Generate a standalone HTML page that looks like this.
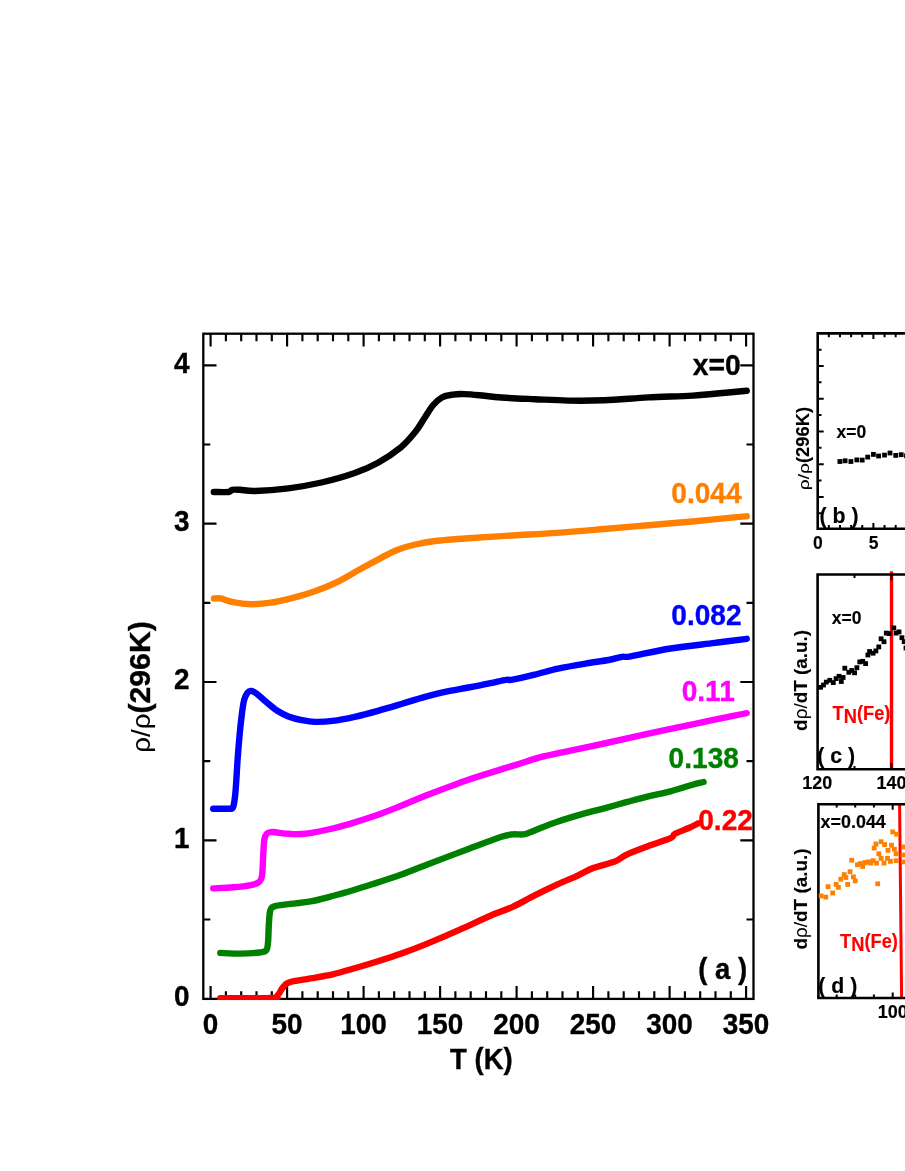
<!DOCTYPE html>
<html><head><meta charset="utf-8"><title>Figure</title>
<style>html,body{margin:0;padding:0;background:#fff}body{width:905px;height:1171px;overflow:hidden;font-family:"Liberation Sans",sans-serif}svg{will-change:transform}</style>
</head><body>
<svg width="905" height="1171" viewBox="0 0 905 1171" style="display:block">
<rect width="905" height="1171" fill="#fff"/>
<path d="M210.60,333.7v12.9M210.60,998.9v-12.9M225.90,333.7v7.6M225.90,998.9v-7.6M241.20,333.7v7.6M241.20,998.9v-7.6M256.50,333.7v7.6M256.50,998.9v-7.6M271.80,333.7v7.6M271.80,998.9v-7.6M287.10,333.7v12.9M287.10,998.9v-12.9M302.40,333.7v7.6M302.40,998.9v-7.6M317.70,333.7v7.6M317.70,998.9v-7.6M333.00,333.7v7.6M333.00,998.9v-7.6M348.30,333.7v7.6M348.30,998.9v-7.6M363.60,333.7v12.9M363.60,998.9v-12.9M378.90,333.7v7.6M378.90,998.9v-7.6M394.20,333.7v7.6M394.20,998.9v-7.6M409.50,333.7v7.6M409.50,998.9v-7.6M424.80,333.7v7.6M424.80,998.9v-7.6M440.10,333.7v12.9M440.10,998.9v-12.9M455.40,333.7v7.6M455.40,998.9v-7.6M470.70,333.7v7.6M470.70,998.9v-7.6M486.00,333.7v7.6M486.00,998.9v-7.6M501.30,333.7v7.6M501.30,998.9v-7.6M516.60,333.7v12.9M516.60,998.9v-12.9M531.90,333.7v7.6M531.90,998.9v-7.6M547.20,333.7v7.6M547.20,998.9v-7.6M562.50,333.7v7.6M562.50,998.9v-7.6M577.80,333.7v7.6M577.80,998.9v-7.6M593.10,333.7v12.9M593.10,998.9v-12.9M608.40,333.7v7.6M608.40,998.9v-7.6M623.70,333.7v7.6M623.70,998.9v-7.6M639.00,333.7v7.6M639.00,998.9v-7.6M654.30,333.7v7.6M654.30,998.9v-7.6M669.60,333.7v12.9M669.60,998.9v-12.9M684.90,333.7v7.6M684.90,998.9v-7.6M700.20,333.7v7.6M700.20,998.9v-7.6M715.50,333.7v7.6M715.50,998.9v-7.6M730.80,333.7v7.6M730.80,998.9v-7.6M746.10,333.7v12.9M746.10,998.9v-12.9M203.3,919.53h7.0M753.5,919.53h-7.0M203.3,840.35h13.2M753.5,840.35h-13.2M203.3,761.18h7.0M753.5,761.18h-7.0M203.3,682.00h13.2M753.5,682.00h-13.2M203.3,602.83h7.0M753.5,602.83h-7.0M203.3,523.65h13.2M753.5,523.65h-13.2M203.3,444.48h7.0M753.5,444.48h-7.0M203.3,365.30h13.2M753.5,365.30h-13.2" stroke="#000" stroke-width="2.15" fill="none"/>
<rect x="203.3" y="333.7" width="550.2" height="665.2" fill="none" stroke="#000" stroke-width="2.3"/>
<clipPath id="ca"><rect x="202.15" y="332.55" width="552.5" height="667.5"/></clipPath>
<g clip-path="url(#ca)">
<path d="M213.8,492.0C216.3,492.0 225.7,492.4 228.7,492.0C231.7,491.6 230.1,490.2 232.0,489.8C233.9,489.4 236.1,489.6 240.0,489.8C243.9,490.0 247.1,491.2 255.2,491.0C263.3,490.8 277.3,489.8 288.4,488.4C299.4,486.9 310.4,485.0 321.5,482.5C332.6,479.9 345.3,476.3 354.7,473.0C364.1,469.8 370.3,467.1 378.0,462.8C385.7,458.5 394.8,452.4 401.0,447.3C407.2,442.1 411.5,436.6 415.4,431.8C419.3,427.0 421.3,422.9 424.2,418.5C427.1,414.1 430.1,408.7 433.0,405.2C435.9,401.7 438.6,399.3 441.9,397.5C445.2,395.7 449.2,395.2 452.9,394.6C456.6,394.0 459.6,394.0 464.0,394.1C468.4,394.2 473.1,394.6 479.4,395.2C485.6,395.8 492.3,396.8 501.5,397.5C510.7,398.2 523.7,398.7 534.7,399.2C545.8,399.7 556.2,400.4 567.8,400.6C579.4,400.8 590.8,400.8 604.2,400.3C617.6,399.8 633.7,398.2 648.4,397.4C663.1,396.6 679.7,396.4 692.6,395.6C705.5,394.8 716.7,393.5 725.7,392.7C734.7,391.9 743.2,391.0 746.7,390.7" fill="none" stroke="#000000" stroke-width="6.4" stroke-linecap="round" stroke-linejoin="round"/>
<path d="M214.0,598.5C215.1,598.5 217.3,597.8 220.5,598.4C223.7,599.0 228.0,601.2 233.1,602.2C238.2,603.2 244.5,604.1 250.8,604.2C257.1,604.3 263.7,603.8 270.7,602.7C277.7,601.6 285.4,599.7 292.8,597.8C300.2,595.9 307.5,593.9 314.9,591.2C322.3,588.6 329.6,585.7 337.0,582.1C344.4,578.6 351.7,573.8 359.1,569.8C366.5,565.7 374.8,561.2 381.2,557.8C387.6,554.5 392.0,552.0 397.7,549.8C403.4,547.6 409.1,545.9 415.4,544.5C421.6,543.0 426.4,542.0 435.2,541.0C444.0,539.9 455.5,539.1 468.4,538.2C481.3,537.3 497.9,536.4 512.6,535.5C527.3,534.6 541.5,534.0 556.8,532.9C572.1,531.8 588.9,530.3 604.2,529.0C619.5,527.7 633.7,526.5 648.4,525.2C663.1,524.0 677.9,522.8 692.6,521.5C707.3,520.1 727.8,518.0 736.8,517.1C745.8,516.3 745.1,516.4 746.7,516.3" fill="none" stroke="#ff8000" stroke-width="6.4" stroke-linecap="round" stroke-linejoin="round"/>
<path d="M213.2,808.7C215.8,808.7 225.4,809.0 228.7,808.7C232.0,808.4 232.0,809.7 233.1,807.0C234.2,804.3 234.7,800.5 235.4,792.6C236.2,784.7 236.9,769.4 237.6,759.4C238.3,749.4 239.1,740.6 239.8,732.9C240.5,725.2 241.3,718.5 242.0,713.0C242.7,707.5 243.3,703.2 244.2,699.8C245.1,696.4 246.3,694.2 247.5,692.7C248.7,691.2 249.6,690.6 251.3,690.9C253.0,691.2 255.0,692.4 257.5,694.3C260.0,696.1 263.0,699.2 266.3,702.0C269.6,704.8 273.6,708.4 277.3,710.8C281.0,713.2 284.3,714.8 288.4,716.4C292.5,718.0 297.3,719.2 301.7,720.1C306.1,721.0 309.8,721.8 314.9,721.9C320.0,722.0 326.0,721.8 332.6,720.9C339.2,720.1 347.1,718.5 354.7,716.8C362.3,715.1 370.1,713.0 378.0,710.8C385.9,708.7 394.4,706.1 402.1,703.8C409.8,701.5 416.8,699.1 424.2,697.1C431.6,695.1 438.9,693.2 446.3,691.6C453.7,690.0 461.0,689.0 468.4,687.5C475.8,686.1 484.2,684.4 490.5,683.1C496.8,681.8 502.3,680.3 506.0,679.8C509.7,679.2 507.8,680.6 512.6,679.7C517.4,678.9 527.1,676.6 534.7,674.7C542.3,672.9 549.4,670.5 558.0,668.6C566.6,666.7 578.1,664.8 586.5,663.4C594.9,661.9 602.7,661.1 608.6,660.0C614.5,658.9 618.2,657.4 621.9,656.8C625.6,656.2 622.6,657.7 630.7,656.3C638.8,654.9 656.5,650.7 670.5,648.5C684.5,646.3 702.0,644.5 714.7,642.9C727.4,641.3 741.4,639.5 746.7,638.8" fill="none" stroke="#0000ff" stroke-width="6.4" stroke-linecap="round" stroke-linejoin="round"/>
<path d="M213.2,888.4C216.5,888.2 226.8,887.8 233.1,887.3C239.4,886.8 246.5,886.0 250.8,885.1C255.2,884.2 257.3,883.5 259.2,881.8C261.1,880.1 261.4,879.5 262.1,875.1C262.8,870.7 262.8,861.1 263.2,855.2C263.6,849.3 263.7,843.4 264.3,839.8C264.9,836.2 265.7,834.9 267.0,833.6C268.3,832.3 268.6,832.0 272.2,832.0C275.8,832.0 282.8,833.5 288.4,833.8C294.0,834.1 298.7,834.5 306.1,833.6C313.5,832.7 324.5,830.4 332.6,828.5C340.7,826.6 347.1,824.7 354.7,822.4C362.3,820.1 370.4,817.4 378.0,814.8C385.6,812.1 392.3,809.3 400.0,806.2C407.7,803.1 412.8,800.6 424.2,796.2C435.6,791.8 453.7,784.7 468.4,779.7C483.1,774.7 500.1,769.8 512.6,765.9C525.1,762.1 532.3,759.3 543.5,756.4C554.7,753.6 569.9,750.9 580.0,748.7C590.1,746.5 592.8,746.0 604.2,743.5C615.6,741.0 633.7,736.8 648.4,733.6C663.1,730.4 677.9,727.4 692.6,724.3C707.3,721.2 727.8,717.0 736.8,715.1C745.8,713.3 745.1,713.5 746.7,713.2" fill="none" stroke="#ff00ff" stroke-width="6.4" stroke-linecap="round" stroke-linejoin="round"/>
<path d="M220.3,952.9C223.6,953.0 233.2,953.7 239.8,953.6C246.4,953.5 255.3,953.0 259.7,952.5C264.1,952.0 264.9,952.1 266.3,950.3C267.7,948.4 267.7,945.8 268.1,941.4C268.5,937.0 268.5,928.9 268.9,923.8C269.3,918.6 269.3,913.5 270.3,910.5C271.3,907.5 272.1,907.1 275.1,906.1C278.1,905.1 282.5,905.0 288.4,904.2C294.3,903.5 303.1,902.8 310.5,901.4C317.9,900.1 325.2,898.0 332.6,896.0C340.0,894.1 347.1,892.0 354.7,889.7C362.3,887.5 370.4,884.8 378.0,882.4C385.6,879.9 392.3,877.8 400.0,875.0C407.7,872.2 412.8,870.0 424.2,865.7C435.6,861.4 455.5,853.7 468.4,848.9C481.3,844.1 494.1,839.2 501.5,836.8C508.9,834.4 508.7,834.8 512.6,834.4C516.5,834.0 521.1,834.9 524.8,834.2C528.5,833.5 529.2,832.5 534.7,830.4C540.2,828.3 550.1,824.2 558.0,821.5C565.9,818.8 574.4,816.3 582.1,814.1C589.8,811.9 596.8,810.3 604.2,808.3C611.6,806.3 618.9,804.2 626.3,802.2C633.7,800.2 641.0,798.1 648.4,796.3C655.8,794.5 663.1,793.2 670.5,791.3C677.9,789.4 687.1,786.3 692.6,784.7C698.1,783.2 701.8,782.5 703.6,782.0" fill="none" stroke="#008000" stroke-width="6.4" stroke-linecap="round" stroke-linejoin="round"/>
<path d="M220.3,998.3C228.8,998.2 261.9,998.4 271.5,997.9C281.1,997.4 275.7,997.2 277.6,995.4C279.6,993.6 281.2,989.2 283.2,987.0C285.2,984.8 284.9,983.7 289.5,982.2C294.1,980.8 303.3,979.8 310.5,978.4C317.7,977.1 325.2,976.0 332.6,974.3C340.0,972.6 347.1,970.4 354.7,968.2C362.3,966.1 370.1,963.8 378.0,961.3C385.9,958.8 394.4,956.1 402.1,953.3C409.8,950.6 416.8,947.9 424.2,944.9C431.6,942.0 438.9,938.8 446.3,935.6C453.7,932.4 461.0,929.1 468.4,925.8C475.8,922.5 483.1,918.8 490.5,915.7C497.9,912.5 505.2,910.2 512.6,906.9C520.0,903.5 527.1,899.2 534.7,895.4C542.3,891.6 550.8,887.5 558.0,884.2C565.2,880.9 571.9,878.3 577.7,875.6C583.6,872.9 586.9,870.4 593.1,868.0C599.4,865.7 609.7,863.6 615.2,861.4C620.7,859.2 620.8,857.4 626.3,854.8C631.8,852.2 641.0,848.8 648.4,846.0C655.8,843.2 666.1,840.2 670.5,838.2C674.9,836.2 671.9,835.4 674.9,833.8C677.9,832.1 684.3,830.0 688.2,828.3C692.1,826.6 696.5,824.2 698.1,823.4" fill="none" stroke="#ff0000" stroke-width="6.4" stroke-linecap="round" stroke-linejoin="round"/>
</g>
<text transform="translate(210.6,1033.6) scale(1,1.065)" font-family="Liberation Sans, sans-serif" font-weight="bold" font-size="27.9" text-anchor="middle" fill="#000" stroke="#000" stroke-width="0.35" xml:space="preserve">0</text>
<text transform="translate(287.1,1033.6) scale(1,1.065)" font-family="Liberation Sans, sans-serif" font-weight="bold" font-size="27.9" text-anchor="middle" fill="#000" stroke="#000" stroke-width="0.35" xml:space="preserve">50</text>
<text transform="translate(363.6,1033.6) scale(1,1.065)" font-family="Liberation Sans, sans-serif" font-weight="bold" font-size="27.9" text-anchor="middle" fill="#000" stroke="#000" stroke-width="0.35" xml:space="preserve">100</text>
<text transform="translate(440.1,1033.6) scale(1,1.065)" font-family="Liberation Sans, sans-serif" font-weight="bold" font-size="27.9" text-anchor="middle" fill="#000" stroke="#000" stroke-width="0.35" xml:space="preserve">150</text>
<text transform="translate(516.6,1033.6) scale(1,1.065)" font-family="Liberation Sans, sans-serif" font-weight="bold" font-size="27.9" text-anchor="middle" fill="#000" stroke="#000" stroke-width="0.35" xml:space="preserve">200</text>
<text transform="translate(593.1,1033.6) scale(1,1.065)" font-family="Liberation Sans, sans-serif" font-weight="bold" font-size="27.9" text-anchor="middle" fill="#000" stroke="#000" stroke-width="0.35" xml:space="preserve">250</text>
<text transform="translate(669.6,1033.6) scale(1,1.065)" font-family="Liberation Sans, sans-serif" font-weight="bold" font-size="27.9" text-anchor="middle" fill="#000" stroke="#000" stroke-width="0.35" xml:space="preserve">300</text>
<text transform="translate(746.1,1033.6) scale(1,1.065)" font-family="Liberation Sans, sans-serif" font-weight="bold" font-size="27.9" text-anchor="middle" fill="#000" stroke="#000" stroke-width="0.35" xml:space="preserve">350</text>
<text transform="translate(189.6,1005.9) scale(1,1.065)" font-family="Liberation Sans, sans-serif" font-weight="bold" font-size="27.9" text-anchor="end" fill="#000" stroke="#000" stroke-width="0.35" xml:space="preserve">0</text>
<text transform="translate(189.6,847.55) scale(1,1.065)" font-family="Liberation Sans, sans-serif" font-weight="bold" font-size="27.9" text-anchor="end" fill="#000" stroke="#000" stroke-width="0.35" xml:space="preserve">1</text>
<text transform="translate(189.6,689.2) scale(1,1.065)" font-family="Liberation Sans, sans-serif" font-weight="bold" font-size="27.9" text-anchor="end" fill="#000" stroke="#000" stroke-width="0.35" xml:space="preserve">2</text>
<text transform="translate(189.6,530.85) scale(1,1.065)" font-family="Liberation Sans, sans-serif" font-weight="bold" font-size="27.9" text-anchor="end" fill="#000" stroke="#000" stroke-width="0.35" xml:space="preserve">3</text>
<text transform="translate(189.6,372.5) scale(1,1.065)" font-family="Liberation Sans, sans-serif" font-weight="bold" font-size="27.9" text-anchor="end" fill="#000" stroke="#000" stroke-width="0.35" xml:space="preserve">4</text>
<text transform="translate(481.4,1069.3) scale(1,1.065)" font-family="Liberation Sans, sans-serif" font-weight="bold" font-size="27.5" text-anchor="middle" fill="#000" stroke="#000" stroke-width="0.35" xml:space="preserve">T (K)</text>
<text transform="translate(150.4,752.8) rotate(-90) scale(1.08,1)" font-family="Liberation Sans, sans-serif" font-weight="bold" font-size="25.7" text-anchor="start" fill="#000" stroke="#000" stroke-width="0.35" xml:space="preserve"><tspan font-weight="normal" stroke-width="0.1">ρ/ρ</tspan></text>
<text transform="translate(150.3,713.6) rotate(-90) scale(1.025,1)" font-family="Liberation Sans, sans-serif" font-weight="bold" font-size="29.5" text-anchor="start" fill="#000" stroke="#000" stroke-width="0.35" xml:space="preserve">(296K)</text>
<text transform="translate(740.8,374.5) scale(1,1.065)" font-family="Liberation Sans, sans-serif" font-weight="bold" font-size="28.3" text-anchor="end" fill="#000" stroke="#000" stroke-width="0.35" xml:space="preserve">x=0</text>
<text transform="translate(741.6,503.2) scale(1,1.065)" font-family="Liberation Sans, sans-serif" font-weight="bold" font-size="28.1" text-anchor="end" fill="#ff8000" stroke="#ff8000" stroke-width="0.35" xml:space="preserve">0.044</text>
<text transform="translate(741.6,625.4) scale(1,1.065)" font-family="Liberation Sans, sans-serif" font-weight="bold" font-size="28.1" text-anchor="end" fill="#0000ff" stroke="#0000ff" stroke-width="0.35" xml:space="preserve">0.082</text>
<text transform="translate(734.8,700.7) scale(1,1.065)" font-family="Liberation Sans, sans-serif" font-weight="bold" font-size="28.1" text-anchor="end" fill="#ff00ff" stroke="#ff00ff" stroke-width="0.35" xml:space="preserve">0.11</text>
<text transform="translate(738.9,767.7) scale(1,1.065)" font-family="Liberation Sans, sans-serif" font-weight="bold" font-size="28.1" text-anchor="end" fill="#008000" stroke="#008000" stroke-width="0.35" xml:space="preserve">0.138</text>
<text transform="translate(752.9,829.6) scale(1,1.065)" font-family="Liberation Sans, sans-serif" font-weight="bold" font-size="28.1" text-anchor="end" fill="#ff0000" stroke="#ff0000" stroke-width="0.35" xml:space="preserve">0.22</text>
<text transform="translate(698.3,978.7) scale(1,1.065)" font-family="Liberation Sans, sans-serif" font-weight="bold" font-size="27.5" text-anchor="start" fill="#000" stroke="#000" stroke-width="0.35" xml:space="preserve">( a )</text>
<path d="M906,333.4H817.7V528.8H906" fill="none" stroke="#000" stroke-width="2.6"/>
<path d="M817.7,513.33h3.8M817.7,496.96h6M817.7,480.59h3.8M817.7,464.22h6M817.7,447.85h3.8M817.7,431.48h6M817.7,415.11h3.8M817.7,398.74h6M817.7,382.37h3.8M817.7,366.00h6M817.7,349.63h3.8M828.84,333.4v3.8M828.84,528.8v-3.8M839.98,333.4v3.8M839.98,528.8v-3.8M851.12,333.4v3.8M851.12,528.8v-3.8M862.26,333.4v3.8M862.26,528.8v-3.8M873.40,333.4v5.7M873.40,528.8v-5.7M884.54,333.4v3.8M884.54,528.8v-3.8M895.68,333.4v3.8M895.68,528.8v-3.8M906.82,333.4v3.8M906.82,528.8v-3.8" stroke="#000" stroke-width="2" fill="none"/>
<rect x="837.5" y="459.1" width="4.8" height="4.8" fill="#000"/>
<rect x="842.7" y="458.4" width="4.8" height="4.8" fill="#000"/>
<rect x="848.5" y="459.1" width="4.8" height="4.8" fill="#000"/>
<rect x="854.4" y="457.5" width="4.8" height="4.8" fill="#000"/>
<rect x="859.8" y="457.7" width="4.8" height="4.8" fill="#000"/>
<rect x="865.3" y="454.7" width="4.8" height="4.8" fill="#000"/>
<rect x="871.0" y="452.0" width="4.8" height="4.8" fill="#000"/>
<rect x="876.2" y="453.6" width="4.8" height="4.8" fill="#000"/>
<rect x="882.1" y="452.7" width="4.8" height="4.8" fill="#000"/>
<rect x="887.6" y="450.6" width="4.8" height="4.8" fill="#000"/>
<rect x="893.3" y="453.0" width="4.8" height="4.8" fill="#000"/>
<rect x="898.8" y="452.3" width="4.8" height="4.8" fill="#000"/>
<rect x="904.1" y="453.4" width="4.8" height="4.8" fill="#000"/>
<text transform="translate(836.5,437.6) scale(1,1.065)" font-family="Liberation Sans, sans-serif" font-weight="bold" font-size="17.5" text-anchor="start" fill="#000" stroke="#000" stroke-width="0.15" xml:space="preserve">x=0</text>
<text transform="translate(819.5,523) scale(1,1.065)" font-family="Liberation Sans, sans-serif" font-weight="bold" font-size="21.3" text-anchor="start" fill="#000" stroke="#000" stroke-width="0.15" xml:space="preserve">( b )</text>
<text transform="translate(817.8,549) scale(1,1.065)" font-family="Liberation Sans, sans-serif" font-weight="bold" font-size="17.5" text-anchor="middle" fill="#000" stroke="#000" stroke-width="0.15" xml:space="preserve">0</text>
<text transform="translate(873.5,549) scale(1,1.065)" font-family="Liberation Sans, sans-serif" font-weight="bold" font-size="17.5" text-anchor="middle" fill="#000" stroke="#000" stroke-width="0.15" xml:space="preserve">5</text>
<text transform="translate(808.9,490.3) rotate(-90) scale(1.26,1)" font-family="Liberation Sans, sans-serif" font-weight="bold" font-size="15.3" text-anchor="start" fill="#000" stroke="#000" stroke-width="0.1" xml:space="preserve"><tspan font-weight="normal">ρ/ρ</tspan></text>
<text transform="translate(808.9,463.0) rotate(-90) scale(1.05,1)" font-family="Liberation Sans, sans-serif" font-weight="bold" font-size="17.5" text-anchor="start" fill="#000" stroke="#000" stroke-width="0.1" xml:space="preserve">(296K)</text>
<rect x="889.8" y="571.3" width="3.4" height="197" fill="#ff0000"/>
<path d="M906,574.5H817.6V769.3H906" fill="none" stroke="#000" stroke-width="2.6"/>
<path d="M854.5,574.5v3.4M854.5,769.3v-3.4M891.5,573.5v6.8M891.5,769.3v-6.2" stroke="#000" stroke-width="2" fill="none"/>
<rect x="818.2" y="684.9" width="4.8" height="4.8" fill="#000"/>
<rect x="821.1" y="682.6" width="4.8" height="4.8" fill="#000"/>
<rect x="823.9" y="679.7" width="4.8" height="4.8" fill="#000"/>
<rect x="827.4" y="677.9" width="4.8" height="4.8" fill="#000"/>
<rect x="830.9" y="680.2" width="4.8" height="4.8" fill="#000"/>
<rect x="833.7" y="676.2" width="4.8" height="4.8" fill="#000"/>
<rect x="836.6" y="673.9" width="4.8" height="4.8" fill="#000"/>
<rect x="838.9" y="679.1" width="4.8" height="4.8" fill="#000"/>
<rect x="840.7" y="675.1" width="4.8" height="4.8" fill="#000"/>
<rect x="842.4" y="665.8" width="4.8" height="4.8" fill="#000"/>
<rect x="846.4" y="669.9" width="4.8" height="4.8" fill="#000"/>
<rect x="849.3" y="668.1" width="4.8" height="4.8" fill="#000"/>
<rect x="852.2" y="670.4" width="4.8" height="4.8" fill="#000"/>
<rect x="854.5" y="665.3" width="4.8" height="4.8" fill="#000"/>
<rect x="857.4" y="659.5" width="4.8" height="4.8" fill="#000"/>
<rect x="860.3" y="658.9" width="4.8" height="4.8" fill="#000"/>
<rect x="863.2" y="661.2" width="4.8" height="4.8" fill="#000"/>
<rect x="865.5" y="652.6" width="4.8" height="4.8" fill="#000"/>
<rect x="867.2" y="649.1" width="4.8" height="4.8" fill="#000"/>
<rect x="870.7" y="650.8" width="4.8" height="4.8" fill="#000"/>
<rect x="873.5" y="648.5" width="4.8" height="4.8" fill="#000"/>
<rect x="876.4" y="644.5" width="4.8" height="4.8" fill="#000"/>
<rect x="878.7" y="636.4" width="4.8" height="4.8" fill="#000"/>
<rect x="881.6" y="639.3" width="4.8" height="4.8" fill="#000"/>
<rect x="883.9" y="630.7" width="4.8" height="4.8" fill="#000"/>
<rect x="886.8" y="631.2" width="4.8" height="4.8" fill="#000"/>
<rect x="891.4" y="625.5" width="4.8" height="4.8" fill="#000"/>
<rect x="893.7" y="630.7" width="4.8" height="4.8" fill="#000"/>
<rect x="896.6" y="629.5" width="4.8" height="4.8" fill="#000"/>
<rect x="899.5" y="635.3" width="4.8" height="4.8" fill="#000"/>
<rect x="901.8" y="639.3" width="4.8" height="4.8" fill="#000"/>
<rect x="903.6" y="645.6" width="4.8" height="4.8" fill="#000"/>
<text transform="translate(831.8,624) scale(1,1.065)" font-family="Liberation Sans, sans-serif" font-weight="bold" font-size="17.5" text-anchor="start" fill="#000" stroke="#000" stroke-width="0.15" xml:space="preserve">x=0</text>
<text transform="translate(832.5,719.8) scale(1,1.065)" font-family="Liberation Sans, sans-serif" font-weight="bold" font-size="18.3" text-anchor="start" fill="#ff0000" stroke="#ff0000" stroke-width="0.15" xml:space="preserve">T<tspan dy="3.2">N</tspan><tspan dy="-3.2">(Fe)</tspan></text>
<text transform="translate(817.2,763) scale(1,1.065)" font-family="Liberation Sans, sans-serif" font-weight="bold" font-size="21.3" text-anchor="start" fill="#000" stroke="#000" stroke-width="0.15" xml:space="preserve">( c )</text>
<text transform="translate(817.2,789.2) scale(1,1.065)" font-family="Liberation Sans, sans-serif" font-weight="bold" font-size="18" text-anchor="middle" fill="#000" stroke="#000" stroke-width="0.15" xml:space="preserve">120</text>
<text transform="translate(891.5,789.2) scale(1,1.065)" font-family="Liberation Sans, sans-serif" font-weight="bold" font-size="18" text-anchor="middle" fill="#000" stroke="#000" stroke-width="0.15" xml:space="preserve">140</text>
<text transform="translate(807.2,730.9) rotate(-90) scale(0.995,1)" font-family="Liberation Sans, sans-serif" font-weight="bold" font-size="19" text-anchor="start" fill="#000" stroke="#000" stroke-width="0.1" xml:space="preserve">d<tspan font-weight="normal">ρ/</tspan>dT (a.u.)</text>
<path d="M898.1,804.2L901.1,804.2L903.1,998L900.1,998Z" fill="#ff0000"/>
<path d="M906,804.2H818.4V998H906" fill="none" stroke="#000" stroke-width="2.6"/>
<path d="M836.7,804.2v3.4M836.7,998v-3.4M855.2,804.2v3.4M855.2,998v-3.4M873.9,804.2v3.4M873.9,998v-3.4M892.7,804.2v5.6M892.7,998v-5.6" stroke="#000" stroke-width="2" fill="none"/>
<rect x="818.7" y="893.5" width="4.8" height="4.8" fill="#ff8000"/>
<rect x="823.4" y="894.7" width="4.8" height="4.8" fill="#ff8000"/>
<rect x="825.7" y="884.3" width="4.8" height="4.8" fill="#ff8000"/>
<rect x="830.3" y="890.6" width="4.8" height="4.8" fill="#ff8000"/>
<rect x="833.7" y="882.0" width="4.8" height="4.8" fill="#ff8000"/>
<rect x="836.0" y="884.9" width="4.8" height="4.8" fill="#ff8000"/>
<rect x="838.4" y="876.8" width="4.8" height="4.8" fill="#ff8000"/>
<rect x="841.8" y="872.2" width="4.8" height="4.8" fill="#ff8000"/>
<rect x="843.5" y="875.1" width="4.8" height="4.8" fill="#ff8000"/>
<rect x="845.3" y="882.0" width="4.8" height="4.8" fill="#ff8000"/>
<rect x="847.6" y="869.3" width="4.8" height="4.8" fill="#ff8000"/>
<rect x="851.0" y="874.5" width="4.8" height="4.8" fill="#ff8000"/>
<rect x="852.8" y="878.5" width="4.8" height="4.8" fill="#ff8000"/>
<rect x="849.3" y="857.8" width="4.8" height="4.8" fill="#ff8000"/>
<rect x="855.1" y="862.4" width="4.8" height="4.8" fill="#ff8000"/>
<rect x="858.0" y="861.2" width="4.8" height="4.8" fill="#ff8000"/>
<rect x="860.3" y="864.1" width="4.8" height="4.8" fill="#ff8000"/>
<rect x="862.6" y="860.1" width="4.8" height="4.8" fill="#ff8000"/>
<rect x="866.0" y="859.5" width="4.8" height="4.8" fill="#ff8000"/>
<rect x="868.3" y="860.7" width="4.8" height="4.8" fill="#ff8000"/>
<rect x="870.7" y="858.3" width="4.8" height="4.8" fill="#ff8000"/>
<rect x="874.1" y="860.7" width="4.8" height="4.8" fill="#ff8000"/>
<rect x="875.3" y="881.4" width="4.8" height="4.8" fill="#ff8000"/>
<rect x="871.8" y="845.7" width="4.8" height="4.8" fill="#ff8000"/>
<rect x="873.5" y="841.6" width="4.8" height="4.8" fill="#ff8000"/>
<rect x="878.7" y="839.3" width="4.8" height="4.8" fill="#ff8000"/>
<rect x="876.4" y="851.4" width="4.8" height="4.8" fill="#ff8000"/>
<rect x="882.2" y="842.2" width="4.8" height="4.8" fill="#ff8000"/>
<rect x="885.6" y="848.0" width="4.8" height="4.8" fill="#ff8000"/>
<rect x="878.7" y="856.0" width="4.8" height="4.8" fill="#ff8000"/>
<rect x="881.6" y="860.7" width="4.8" height="4.8" fill="#ff8000"/>
<rect x="885.1" y="856.0" width="4.8" height="4.8" fill="#ff8000"/>
<rect x="888.0" y="858.9" width="4.8" height="4.8" fill="#ff8000"/>
<rect x="889.1" y="842.8" width="4.8" height="4.8" fill="#ff8000"/>
<rect x="892.0" y="846.8" width="4.8" height="4.8" fill="#ff8000"/>
<rect x="893.7" y="851.4" width="4.8" height="4.8" fill="#ff8000"/>
<rect x="893.7" y="858.3" width="4.8" height="4.8" fill="#ff8000"/>
<rect x="890.3" y="829.5" width="4.8" height="4.8" fill="#ff8000"/>
<rect x="894.3" y="831.8" width="4.8" height="4.8" fill="#ff8000"/>
<rect x="901.2" y="844.5" width="4.8" height="4.8" fill="#ff8000"/>
<rect x="900.6" y="852.6" width="4.8" height="4.8" fill="#ff8000"/>
<rect x="901.8" y="859.5" width="4.8" height="4.8" fill="#ff8000"/>
<text transform="translate(820.6,828.4) scale(1,1.065)" font-family="Liberation Sans, sans-serif" font-weight="bold" font-size="17.9" text-anchor="start" fill="#000" stroke="#000" stroke-width="0.15" xml:space="preserve">x=0.044</text>
<text transform="translate(840,947.6) scale(1,1.065)" font-family="Liberation Sans, sans-serif" font-weight="bold" font-size="18.3" text-anchor="start" fill="#ff0000" stroke="#ff0000" stroke-width="0.15" xml:space="preserve">T<tspan dy="3.2">N</tspan><tspan dy="-3.2">(Fe)</tspan></text>
<text transform="translate(818.3,992.5) scale(1,1.065)" font-family="Liberation Sans, sans-serif" font-weight="bold" font-size="21.3" text-anchor="start" fill="#000" stroke="#000" stroke-width="0.15" xml:space="preserve">( d )</text>
<text transform="translate(892.7,1018.4) scale(1,1.065)" font-family="Liberation Sans, sans-serif" font-weight="bold" font-size="18" text-anchor="middle" fill="#000" stroke="#000" stroke-width="0.15" xml:space="preserve">100</text>
<text transform="translate(807.2,949.5) rotate(-90) scale(0.995,1)" font-family="Liberation Sans, sans-serif" font-weight="bold" font-size="19" text-anchor="start" fill="#000" stroke="#000" stroke-width="0.1" xml:space="preserve">d<tspan font-weight="normal">ρ/</tspan>dT (a.u.)</text>
</svg>
</body></html>
